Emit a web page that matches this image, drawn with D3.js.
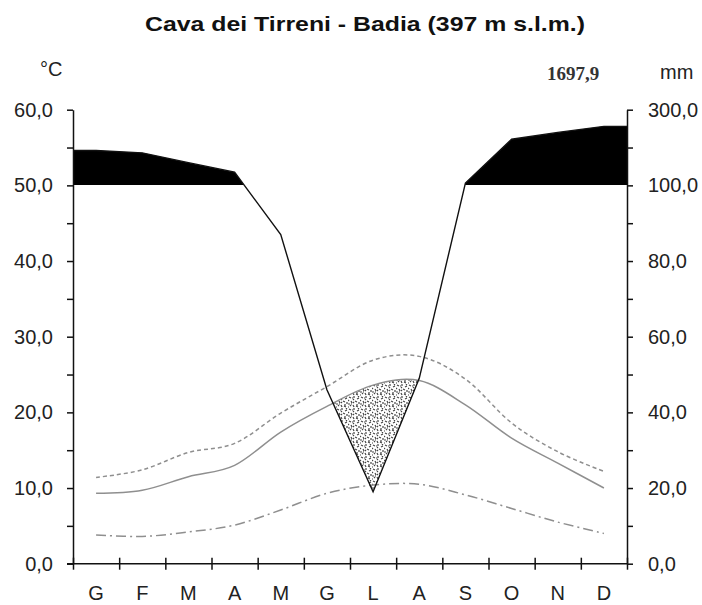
<!DOCTYPE html>
<meta charset="utf-8">
<title>Cava dei Tirreni - Badia</title>
<style>
  body { margin: 0; background: white; }
  svg { font-family: Arial, "Liberation Sans", sans-serif; display: block; }
  .lbl { fill: #222; font-size: 20px; }
  .axis path, .axis line { stroke: #111; stroke-width: 1.5px; }
</style>
<body>
<div id="chart"></div>
<script src="https://d3js.org/d3.v7.min.js"></script>
<script>

// months (Italian initials)
var months = ["G","F","M","A","M","G","L","A","S","O","N","D"];
// monthly precipitation, mm
var precip = [192, 186, 160, 135, 87, 46, 19, 49, 106, 222, 240, 256];
// temperatures, °C
var tMax  = [11.4, 12.4, 14.7, 15.9, 19.9, 23.4, 26.9, 27.4, 24.4, 18.6, 14.8, 12.2];
var tMean = [9.3, 9.7, 11.5, 13.0, 17.4, 20.8, 23.6, 24.2, 21.0, 16.6, 13.3, 10.0];
var tMin  = [3.8, 3.6, 4.2, 5.1, 7.1, 9.3, 10.4, 10.5, 9.1, 7.3, 5.5, 4.0];
var tempTicks = [0, 5, 10, 15, 20, 25, 30, 35, 40, 45, 50, 55, 60];
var totalPrecip = "1697,9";

var width = 702, height = 605;

var svg = d3.select("#chart").append("svg")
    .attr("width", width)
    .attr("height", height);

svg.append("rect").attr("width", width).attr("height", height).attr("fill", "white");

// x: month index, bands of one month
var x = d3.scaleLinear().domain([0, 12]).range([73, 627]);
var y = d3.scaleLinear().domain([0, 60]).range([563.7, 109.7]);

// precipitation on the temperature scale: 2 mm = 1 °C up to 100 mm, then 20 mm = 1 °C
function pToT(p) { return p <= 100 ? p / 2 : 50 + (p - 100) / 20; }
function tToP(t) { return t <= 50 ? t * 2 : 100 + (t - 50) * 20; }
function comma(v) { return v.toFixed(1).replace(".", ","); }

var defs = svg.append("defs");

// stipple for the dry season
var pat = defs.append("pattern")
    .attr("id", "stipple")
    .attr("patternUnits", "userSpaceOnUse")
    .attr("width", 12).attr("height", 12);
pat.append("path")
    .attr("d", "M1,1l2,1M6,0l0,2M9,3l2,-1M3,5l1,2M7,5l2,1M0,8l2,0M5,9l1,2M9,8l0,2M4,2l1,0M2,10l1,-1" +
               "M10,0l1,1M0,4l1,1M6,6l-1,1M11,6l0,2M3,8l1,0M8,10l2,1M0,11l1,0M5,3l1,1")
    .attr("stroke", "#444").attr("stroke-width", 1.2).attr("fill", "none");

var meanArea = d3.area()
    .x(function(d, i) { return x(i + 0.5); })
    .y0(y(0))
    .y1(function(d) { return y(d); })
    .curve(d3.curveCatmullRom.alpha(0));

defs.append("clipPath").attr("id", "belowMean")
  .append("path").attr("d", meanArea(tMean));

defs.append("clipPath").attr("id", "above100")
  .append("rect")
    .attr("x", x(0)).attr("y", 0)
    .attr("width", x(12) - x(0)).attr("height", Math.floor(y(50)));

// precipitation points, extended flat to both axes
var pPts = [[0, precip[0]]]
  .concat(precip.map(function(p, i) { return [i + 0.5, p]; }))
  .concat([[12, precip[11]]]);

// humid season above 100 mm: black
svg.append("path")
    .attr("clip-path", "url(#above100)")
    .attr("fill", "black")
    .attr("d", d3.area()
      .x(function(d) { return x(d[0]); })
      .y0(y(50))
      .y1(function(d) { return y(pToT(d[1])); })(pPts));

// dry season: above precipitation line and below mean temperature
svg.append("path")
    .attr("clip-path", "url(#belowMean)")
    .attr("fill", "url(#stipple)")
    .attr("d", d3.area()
      .x(function(d) { return x(d[0]); })
      .y0(function(d) { return y(pToT(d[1])); })
      .y1(y(60))(pPts));

// temperature lines
function tLine(data, dash) {
  svg.append("path")
      .datum(data)
      .attr("fill", "none")
      .attr("stroke", "#8f8f8f")
      .attr("stroke-width", 1.5)
      .attr("stroke-dasharray", dash)
      .attr("d", d3.line()
        .x(function(d, i) { return x(i + 0.5); })
        .y(function(d) { return y(d); })
        .curve(d3.curveCatmullRom.alpha(0)));
}
tLine(tMax, "4,3");
tLine(tMean, null);
tLine(tMin, "10,4,2,4");

// precipitation line
svg.append("path")
    .datum(pPts)
    .attr("fill", "none")
    .attr("stroke", "#111")
    .attr("stroke-width", 1.4)
    .attr("d", d3.line()
      .x(function(d) { return x(d[0]); })
      .y(function(d) { return y(pToT(d[1])); }));

// left axis (°C)
svg.append("g")
    .attr("class", "axis")
    .attr("transform", "translate(" + x(0) + ",0)")
    .call(d3.axisLeft(y).tickValues(tempTicks).tickSize(6).tickSizeOuter(0).tickPadding(14)
      .tickFormat(function(d) { return d % 10 === 0 ? comma(d) : ""; }))
    .call(function(g) { g.selectAll("text").attr("class", "lbl").attr("font-family", null).attr("font-size", null); });

// right axis (mm)
svg.append("g")
    .attr("class", "axis")
    .attr("transform", "translate(" + x(12) + ",0)")
    .call(d3.axisRight(y).tickValues(tempTicks).tickSize(6).tickSizeOuter(0).tickPadding(15)
      .tickFormat(function(d) { return d % 10 === 0 ? comma(tToP(d)) : ""; }))
    .call(function(g) { g.selectAll("text").attr("class", "lbl").attr("font-family", null).attr("font-size", null); });

// bottom axis: month boundaries crossing the line
svg.append("g")
    .attr("class", "axis")
    .attr("transform", "translate(0," + (y(0) - 6) + ")")
    .call(d3.axisBottom(x).tickValues(d3.range(13)).tickSize(12).tickSizeOuter(0).tickFormat(""))
    .call(function(g) { g.select(".domain").remove(); });

svg.append("line")
    .attr("x1", x(0) - 6).attr("x2", x(12))
    .attr("y1", y(0)).attr("y2", y(0))
    .attr("stroke", "#111").attr("stroke-width", 1.5);

svg.selectAll("text.month")
  .data(months)
  .enter().append("text")
    .attr("class", "month lbl")
    .attr("x", function(d, i) { return x(i + 0.5); })
    .attr("y", 600)
    .attr("text-anchor", "middle")
    .text(function(d) { return d; });

// titles and units
svg.append("text")
    .attr("x", 365).attr("y", 31)
    .attr("text-anchor", "middle")
    .attr("font-weight", "bold")
    .attr("font-size", "21px")
    .attr("textLength", 440)
    .attr("lengthAdjust", "spacingAndGlyphs")
    .attr("fill", "#111")
    .text("Cava dei Tirreni - Badia (397 m s.l.m.)");

svg.append("text").attr("class", "lbl")
    .attr("x", 40).attr("y", 76)
    .text("°C");

svg.append("text").attr("class", "lbl")
    .attr("x", 660).attr("y", 79)
    .text("mm");

svg.append("text")
    .attr("x", 573).attr("y", 80)
    .attr("text-anchor", "middle")
    .attr("font-family", "'Liberation Serif', serif")
    .attr("font-weight", "bold")
    .attr("font-size", "19px")
    .attr("fill", "#333")
    .text(totalPrecip);

</script>
</body>
